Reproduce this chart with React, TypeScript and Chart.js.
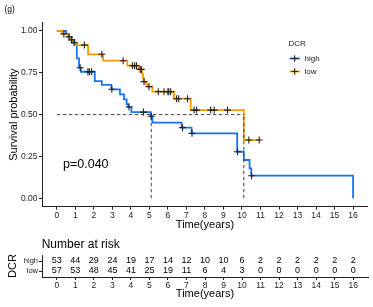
import React, { useEffect, useRef } from "react";
import { Chart, registerables } from "chart.js";
Chart.register(...registerables);

// ---- data ----
const groups = ["high", "low"];
const lowTimes = [0, 0.3, 0.6, 0.75, 0.88, 1.02, 1.69, 2.5, 3.81, 4.42, 4.6, 4.65, 4.69, 4.82, 4.93, 5.16, 6.33, 7.23, 10.1, 10.96];
const lowSurv = [1, 0.982, 0.964, 0.946, 0.93, 0.915, 0.86, 0.822, 0.792, 0.77, 0.745, 0.72, 0.697, 0.68, 0.667, 0.637, 0.595, 0.527, 0.348, 0.348];
const lowCensor = [0.38, 0.66, 0.8, 0.93, 1.49, 2.43, 3.58, 4.08, 4.2, 4.3, 4.5, 4.56, 4.71, 4.98, 5.48, 5.79, 6.0, 6.05, 6.15, 6.47, 6.58, 7.06, 7.41, 7.55, 8.31, 8.5, 9.22, 10.37, 10.93];
const highTimes = [0, 0.5, 0.65, 0.8, 0.95, 1.08, 1.2, 1.3, 2.05, 2.43, 2.95, 3.41, 3.63, 3.77, 3.85, 4.03, 5.07, 5.16, 6.74, 7.28, 9.74, 10.1, 10.41, 10.5, 16];
const highSurv = [1, 0.981, 0.962, 0.943, 0.924, 0.836, 0.78, 0.756, 0.7, 0.678, 0.651, 0.621, 0.591, 0.562, 0.545, 0.515, 0.49, 0.452, 0.422, 0.388, 0.278, 0.229, 0.179, 0.135, 0];
const highCensor = [1.26, 1.68, 1.76, 1.88, 2.97, 3.9, 4.68, 5.1, 6.79, 7.3, 9.76, 10.52];
const medianTimes = [5.1, 10.1];
const medianLevel = 0.5;
const xTicks = [0, 1, 2, 3, 4, 5, 6, 7, 8, 9, 10, 11, 12, 13, 14, 15, 16];
const yTicks = [0, 0.25, 0.5, 0.75, 1];
const riskHigh = [53, 44, 29, 24, 19, 17, 14, 12, 10, 10, 6, 2, 2, 2, 2, 2, 2];
const riskLow = [57, 53, 48, 45, 41, 25, 19, 11, 6, 4, 3, 0, 0, 0, 0, 0, 0];
const pText = "p=0.040";
const panelTag = "(g)";

const BLUE = "#1a72f2";
const ORANGE = "#ff9a00";
const FONT = "'Liberation Sans', Arial, sans-serif";
const INK = "#222";

function survAt(times: number[], surv: number[], t: number) {
  let s = surv[0];
  for (let i = 0; i < times.length; i++) if (times[i] <= t) s = surv[i];
  return s;
}

const pts = (ts: number[], ss: number[]) => ts.map((t, i) => ({ x: t, y: ss[i] }));

export default function App() {
  const mainRef = useRef<HTMLCanvasElement>(null);
  const riskRef = useRef<HTMLCanvasElement>(null);

  useEffect(() => {
    const xScaleBase = (h: number, titlePadBottom: number) => ({
      type: "linear" as const,
      min: -0.8,
      max: 16.8,
      afterBuildTicks: (s: any) => { s.ticks = xTicks.map((v) => ({ value: v })); },
      afterFit: (s: any) => { s.height = h; },
      border: { display: true, color: INK, width: 1 },
      grid: { drawOnChartArea: false, drawTicks: true, tickLength: 3, color: INK },
      ticks: { padding: 0.5, color: INK, font: { family: FONT, size: 8.5 }, maxRotation: 0, autoSkip: false },
      title: { display: true, text: "Time(years)", color: "#000", font: { family: FONT, size: 11 }, padding: { top: 0, bottom: titlePadBottom } },
    });

    const annot = {
      id: "annot",
      afterDraw(chart: any) {
        const ctx = chart.ctx;
        ctx.save();
        ctx.fillStyle = "#000";
        ctx.textBaseline = "middle";
        ctx.textAlign = "left";
        ctx.font = `8.5px ${FONT}`;
        ctx.fillText(panelTag, 4.5, 9.7);
        ctx.font = `12.5px ${FONT}`;
        ctx.fillText(pText, 63, 165);
        // legend
        ctx.font = `8px ${FONT}`;
        ctx.fillStyle = INK;
        ctx.fillText("DCR", 288.5, 44);
        const cols = [BLUE, ORANGE];
        const ys = [58.5, 71.5];
        groups.forEach((g, i) => {
          ctx.strokeStyle = cols[i];
          ctx.lineWidth = 1.8;
          ctx.beginPath();
          ctx.moveTo(289.5, ys[i]);
          ctx.lineTo(300, ys[i]);
          ctx.stroke();
          ctx.strokeStyle = INK;
          ctx.lineWidth = 1.1;
          ctx.beginPath();
          ctx.moveTo(291.4, ys[i]);
          ctx.lineTo(298, ys[i]);
          ctx.moveTo(294.7, ys[i] - 3.3);
          ctx.lineTo(294.7, ys[i] + 3.3);
          ctx.stroke();
          ctx.fillStyle = INK;
          ctx.fillText(g, 304.5, ys[i]);
        });
        ctx.restore();
      },
    };

    const dash = [3.5, 2.5];
    const dashedDs = (data: any[]) => ({
      data, borderColor: "#444", borderWidth: 1, borderDash: dash, pointRadius: 0, stepped: false, fill: false,
    });
    const censorDs = (ts: number[], times: number[], surv: number[]) => ({
      type: "scatter" as const,
      data: ts.map((t) => ({ x: t, y: survAt(times, surv, t) })),
      pointStyle: "cross", pointRadius: 3.5, borderColor: INK, borderWidth: 1.1, backgroundColor: INK, showLine: false,
    });

    const main = new Chart(mainRef.current!, {
      type: "line",
      data: {
        datasets: [
          censorDs(lowCensor, lowTimes, lowSurv) as any,
          censorDs(highCensor, highTimes, highSurv) as any,
          dashedDs([{ x: 0, y: medianLevel }, { x: Math.max(...medianTimes), y: medianLevel }]),
          ...medianTimes.map((t) => dashedDs([{ x: t, y: 0 }, { x: t, y: medianLevel }])),
          { data: pts(lowTimes, lowSurv), borderColor: ORANGE, borderWidth: 1.8, pointRadius: 0, stepped: true, fill: false },
          { data: pts(highTimes, highSurv), borderColor: BLUE, borderWidth: 1.8, pointRadius: 0, stepped: true, fill: false },
        ],
      },
      options: {
        responsive: false,
        animation: false,
        devicePixelRatio: 1,
        layout: { padding: { top: 22.5, right: 5, left: 0, bottom: 0 } },
        plugins: { legend: { display: false }, tooltip: { enabled: false } },
        scales: {
          x: xScaleBase(27.3, 2.5) as any,
          y: {
            type: "linear",
            min: -0.05,
            max: 1.05,
            afterBuildTicks: (s: any) => { s.ticks = yTicks.map((v) => ({ value: v })); },
            afterFit: (s: any) => { s.width = 42; },
            border: { display: true, color: INK, width: 1 },
            grid: { drawOnChartArea: false, drawTicks: true, tickLength: 3, color: INK },
            ticks: { padding: 1.5, color: INK, font: { family: FONT, size: 8.5 }, callback: (v: any) => Number(v).toFixed(2) },
            title: { display: true, text: "Survival probability", color: "#000", font: { family: FONT, size: 11 }, padding: { top: 7.2, bottom: 0 } },
          },
        },
      },
      plugins: [annot],
    });

    const riskPlugin = {
      id: "risk",
      afterDraw(chart: any) {
        const ctx = chart.ctx;
        const xs = chart.scales.x;
        const ys = chart.scales.y;
        ctx.save();
        ctx.fillStyle = "#000";
        ctx.textBaseline = "middle";
        ctx.textAlign = "center";
        ctx.font = `9px ${FONT}`;
        const rows: [number, number[]][] = [[2, riskHigh], [1, riskLow]];
        rows.forEach(([row, vals]) => {
          vals.forEach((v, i) => {
            ctx.fillText(String(v), xs.getPixelForValue(xTicks[i]), ys.getPixelForValue(row));
          });
        });
        ctx.textAlign = "left";
        ctx.font = `12px ${FONT}`;
        ctx.fillText("Number at risk", 41.7, 10.5);
        ctx.restore();
      },
    };

    const risk = new Chart(riskRef.current!, {
      type: "scatter",
      data: { datasets: [{ data: [] }] },
      options: {
        responsive: false,
        animation: false,
        devicePixelRatio: 1,
        layout: { padding: { top: 21, right: 5, left: 0, bottom: 0 } },
        plugins: { legend: { display: false }, tooltip: { enabled: false } },
        scales: {
          x: xScaleBase(30, 6.5) as any,
          y: {
            type: "linear",
            min: 0.4,
            max: 2.6,
            afterBuildTicks: (s: any) => { s.ticks = [{ value: 1 }, { value: 2 }]; },
            afterFit: (s: any) => { s.width = 42; },
            border: { display: true, color: INK, width: 1 },
            grid: { drawOnChartArea: false, drawTicks: true, tickLength: 3, color: INK },
            ticks: { padding: 1, color: INK, font: { family: FONT, size: 7.5 }, callback: (v: any) => (v === 2 ? groups[0] : v === 1 ? groups[1] : "") },
            title: { display: true, text: "DCR", color: "#000", font: { family: FONT, size: 11 }, padding: { top: 6.5, bottom: 0 } },
          },
        },
      },
      plugins: [riskPlugin],
    });

    return () => { main.destroy(); risk.destroy(); };
  }, []);

  return (
    <div style={{ position: "fixed", left: 0, top: 0, width: 373, height: 307, background: "#fff" }}>
      <canvas ref={mainRef} width={373} height={234} style={{ position: "absolute", left: 0, top: 0, display: "block" }} />
      <canvas ref={riskRef} width={373} height={73} style={{ position: "absolute", left: 0, top: 234, display: "block" }} />
    </div>
  );
}
